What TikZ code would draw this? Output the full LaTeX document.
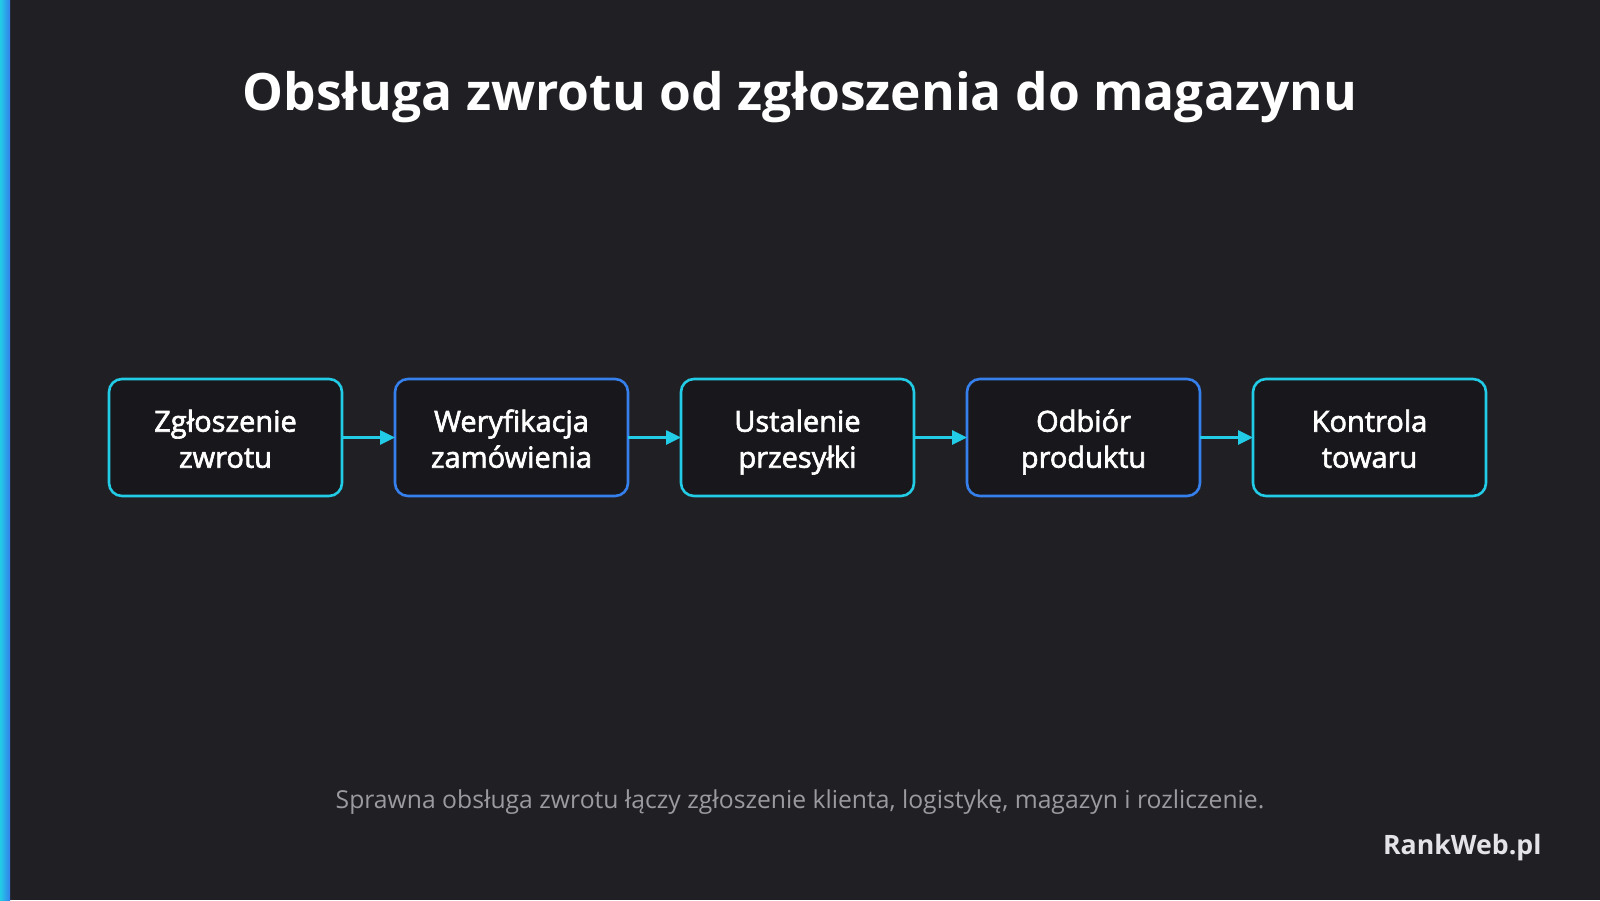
\documentclass[tikz,border=0pt]{standalone}
\usepackage{fontspec}
\setmainfont{Open Sans}
\newfontfamily\stepfont{Open Sans}[FakeBold=2.2]
\usetikzlibrary{positioning,arrows.meta}

\definecolor{bgdark}{HTML}{202024}
\definecolor{boxfill}{HTML}{18181C}
\definecolor{linecyan}{HTML}{22CCE6}
\definecolor{lineblue}{HTML}{3580EC}
\definecolor{footgray}{HTML}{9A9AA0}
\definecolor{markgray}{HTML}{E4E4E8}

% two centred lines, set a little lower in the box
\newcommand\steplines[1]{\raisebox{-5pt}[\height][\depth]{\begin{tabular}{@{}c@{}}#1\end{tabular}}}

\begin{document}
\begin{tikzpicture}[x=1pt,y=-1pt,node distance=53pt]
	\tikzstyle{every node}=[text=white]
	\tikzstyle{stepbox}=[draw, line width=2.6pt, fill=boxfill, rounded corners=13pt,
		minimum width=233pt, minimum height=117pt, outer sep=0pt, inner sep=0pt,
		font=\stepfont\fontsize{29}{36}\selectfont]
	\tikzstyle{flow}=[draw=linecyan, line width=2.6pt, -{Triangle[length=15pt,width=14pt]}]

	% background and side bar
	\fill[bgdark] (0,0) rectangle (1600,900);
	\shade[left color=linecyan, right color=lineblue] (0,0) rectangle (10,900);

	\node[font=\bfseries\fontsize{51.5}{60}\selectfont] (title) at (800,97) {Obsługa zwrotu od zgłoszenia do magazynu};

	\node[stepbox, draw=linecyan] (zgl) at (225.5,437.5) {\steplines{Zgłoszenie\\zwrotu}};
	\node[stepbox, draw=lineblue, right=of zgl] (wer) {\steplines{Weryfikacja\\zamówienia}};
	\node[stepbox, draw=linecyan, right=of wer] (ust) {\steplines{Ustalenie\\przesyłki}};
	\node[stepbox, draw=lineblue, right=of ust] (odb) {\steplines{Odbiór\\produktu}};
	\node[stepbox, draw=linecyan, right=of odb] (kon) {\steplines{Kontrola\\towaru}};

	\draw[flow] (zgl) -- (wer);
	\draw[flow] (wer) -- (ust);
	\draw[flow] (ust) -- (odb);
	\draw[flow] (odb) -- (kon);

	\node[text=footgray, font=\fontsize{24.7}{28}\selectfont] (foot) at (800,802) {Sprawna obsługa zwrotu łączy zgłoszenie klienta, logistykę, magazyn i rozliczenie.};
	\node[text=markgray, anchor=east, font=\bfseries\fontsize{26.7}{31}\selectfont] (mark) at (1545,848) {RankWeb.pl};
\end{tikzpicture}
\end{document}
